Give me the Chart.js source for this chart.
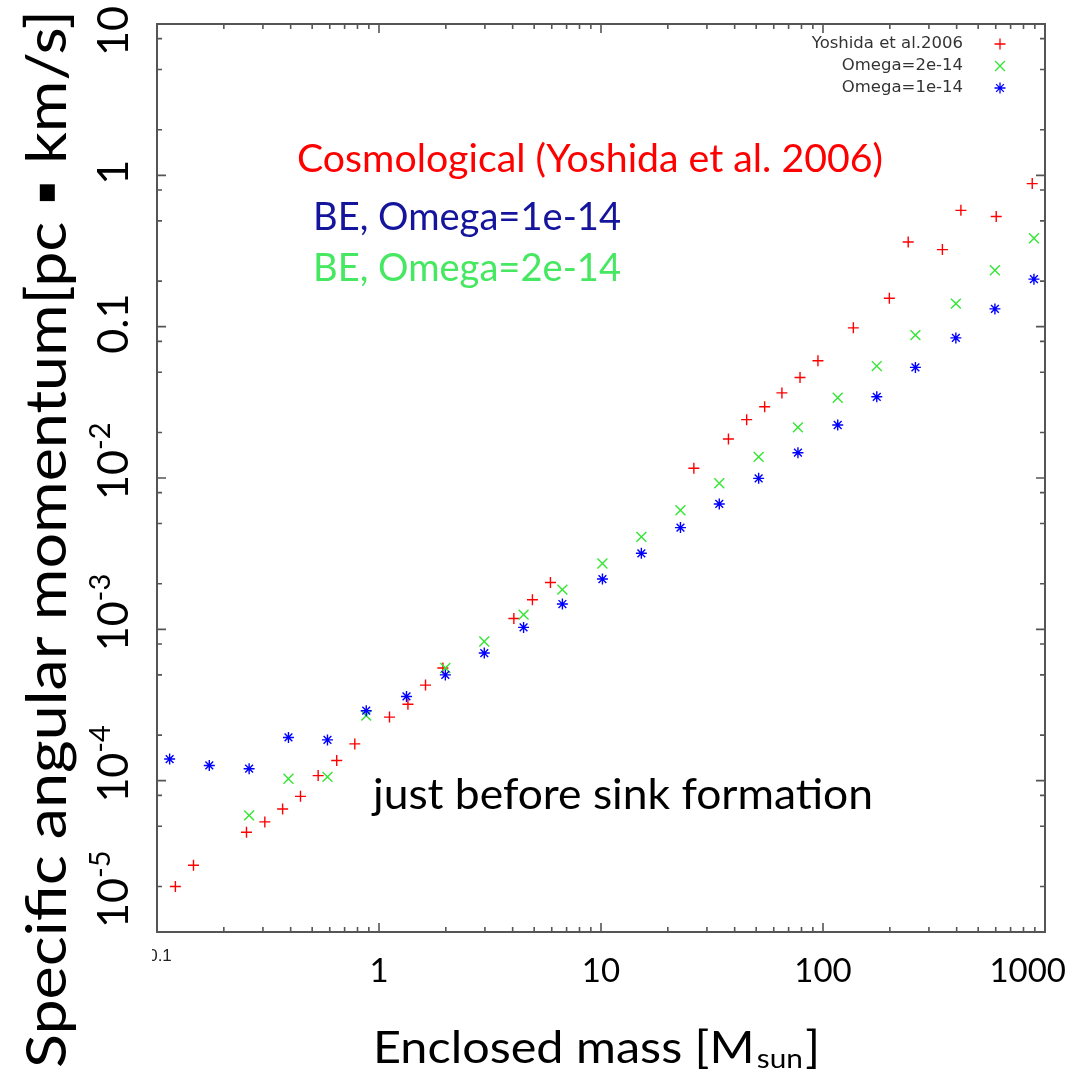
<!DOCTYPE html>
<html>
<head>
<meta charset="utf-8">
<title>Specific angular momentum</title>
<script src="https://cdn.jsdelivr.net/npm/chart.js@4/dist/chart.umd.min.js"></script>
<style>
  html, body { margin: 0; padding: 0; background: #fff; }
  canvas { display: block; }
</style>
</head>
<body>
<canvas id="grafico" width="1082" height="1080"></canvas>
<script>
// dados (massa em Msun, j em pc km/s)
const massYoshida = [0.121, 0.146, 0.253, 0.306, 0.368, 0.443, 0.532, 0.645, 0.778, 1.115, 1.35, 1.62, 1.94,
  4.05, 4.91, 5.92, 26.2, 37.5, 45.3, 54.6, 65.3, 78.8, 94.9, 137, 199, 242, 345, 418, 603, 876];
const jYoshida = [2.0e-5, 2.76e-5, 4.56e-5, 5.34e-5, 6.5e-5, 7.88e-5, 1.08e-4, 1.36e-4, 1.75e-4, 2.63e-4, 3.2e-4, 4.28e-4, 5.55e-4,
  1.18e-3, 1.57e-3, 2.04e-3, 1.16e-2, 1.81e-2, 2.43e-2, 2.96e-2, 3.65e-2, 4.61e-2, 5.95e-2, 9.82e-2, 0.154, 0.363, 0.323, 0.587, 0.534, 0.882];

const massOmega2 = [0.26, 0.391, 0.586, 0.876, 1.99, 2.98, 4.48, 6.70, 10.15, 15.2, 22.8, 34.1, 51.3, 77.1, 116.5, 174.7, 260.8, 396.7, 594.8, 891.7];
const jOmega2 = [5.9e-5, 1.03e-4, 1.06e-4, 2.69e-4, 5.55e-4, 8.31e-4, 1.25e-3, 1.83e-3, 2.72e-3, 4.08e-3, 6.12e-3, 9.23e-3, 1.38e-2, 2.16e-2,
  3.39e-2, 5.49e-2, 8.79e-2, 0.142, 0.236, 0.384];

const massOmega1 = [0.114, 0.172, 0.26, 0.391, 0.586, 0.876, 1.33, 1.99, 2.98, 4.48, 6.70, 10.15, 15.2, 22.8, 34.1, 51.3, 77.1, 116.5, 174.7, 260.8, 396.7, 594.8, 891.7];
const jOmega1 = [1.39e-4, 1.26e-4, 1.2e-4, 1.93e-4, 1.86e-4, 2.9e-4, 3.6e-4, 5.0e-4, 6.97e-4, 1.03e-3, 1.47e-3, 2.15e-3, 3.18e-3, 4.7e-3,
  6.74e-3, 9.95e-3, 1.47e-2, 2.24e-2, 3.44e-2, 5.38e-2, 8.43e-2, 0.131, 0.206];

const seriesNames = ['Yoshida et al.2006', 'Omega=2e-14', 'Omega=1e-14'];

const xTickValues = [0.1, 1, 10, 100, 1000];
const xTickLabels = ['0.1', '1', '10', '100', '1000'];
const yTickValues = [10, 1, 0.1, 1e-2, 1e-3, 1e-4, 1e-5];
const yTickLabels = ['10', '1', '0.1', '10^-2', '10^-3', '10^-4', '10^-5'];
const xMinorSteps = [1, 2, 3, 4, 5, 6, 7, 8, 9];
const yMinorSteps = [1, 2, 5, 8];

const xTitle = ['Enclosed mass [M', 'sun', ']'];
const yTitle = 'Specific angular momentum[pc \u25AA km/s]';
const notes = ['Cosmological (Yoshida et al. 2006)', 'BE, Omega=1e-14', 'BE, Omega=2e-14', 'just before sink formation'];

const LATO = 'Lato, "Open Sans", sans-serif';
const FRAME = '#555';

function toPoints(xs, ys) {
    return xs.map((x, i) => ({ x: x, y: ys[i] }));
}

function logTicks(lo, hi, steps) {
    var out = [];
    for (var e = lo; e < hi; e++) {
        steps.forEach(m => out.push({ value: m * Math.pow(10, e) }));
    }
    out.push({ value: Math.pow(10, hi) });
    return out;
}

function isDecade(v) {
    var l = Math.log10(v);
    return Math.abs(l - Math.round(l)) < 1e-6;
}

// texto ajustado a uma largura
function fitText(ctx, text, size, family, target) {
    ctx.font = size + 'px ' + family;
    var w = ctx.measureText(text).width;
    return target / w;
}

function drawNote(ctx, text, color, x, baseline, size, target) {
    ctx.save();
    var k = fitText(ctx, text, size, LATO, target);
    ctx.translate(x, baseline);
    ctx.scale(k, 1);
    ctx.fillStyle = color;
    ctx.textAlign = 'left';
    ctx.textBaseline = 'alphabetic';
    ctx.fillText(text, 0, 0);
    ctx.restore();
}

function drawMarker(ctx, style, r, x, y) {
    if (Chart.helpers && Chart.helpers.drawPoint) {
        Chart.helpers.drawPoint(ctx, { pointStyle: style, radius: r, rotation: 0, borderWidth: 1.3 }, x, y);
        return;
    }
    ctx.beginPath();
    if (style !== 'crossRot') {
        ctx.moveTo(x - r, y); ctx.lineTo(x + r, y);
        ctx.moveTo(x, y - r); ctx.lineTo(x, y + r);
    }
    if (style !== 'cross') {
        var d = r * Math.SQRT1_2;
        ctx.moveTo(x - d, y - d); ctx.lineTo(x + d, y + d);
        ctx.moveTo(x - d, y + d); ctx.lineTo(x + d, y - d);
    }
    ctx.stroke();
}

// moldura e marcas para dentro (estilo gnuplot)
const framePlugin = {
    id: 'frame',
    beforeDatasetsDraw(chart) {
        var ctx = chart.ctx, a = chart.chartArea;
        var xs = chart.scales.x, ys = chart.scales.y;
        ctx.save();
        ctx.strokeStyle = FRAME;
        ctx.lineWidth = 1.6;
        ctx.beginPath();
        xs.ticks.forEach(t => {
            var p = xs.getPixelForValue(t.value);
            var len = isDecade(t.value) ? 9 : 5;
            ctx.moveTo(p, a.bottom); ctx.lineTo(p, a.bottom - len);
            ctx.moveTo(p, a.top); ctx.lineTo(p, a.top + len);
        });
        ys.ticks.forEach(t => {
            var p = ys.getPixelForValue(t.value);
            var len = isDecade(t.value) ? 9 : 5;
            ctx.moveTo(a.left, p); ctx.lineTo(a.left + len, p);
            ctx.moveTo(a.right, p); ctx.lineTo(a.right - len, p);
        });
        ctx.stroke();
        ctx.lineWidth = 2;
        ctx.strokeRect(a.left, a.top, a.right - a.left, a.bottom - a.top);
        ctx.restore();
    },
    afterDraw(chart) {
        var ctx = chart.ctx, a = chart.chartArea;
        var xs = chart.scales.x, ys = chart.scales.y;
        ctx.save();
        ctx.fillStyle = '#000';

        // rótulos do eixo x
        xTickValues.forEach((v, i) => {
            var px = xs.getPixelForValue(v);
            if (v < 1) {
                ctx.save();
                ctx.beginPath();
                ctx.rect(152, 935, 60, 40);
                ctx.clip();
                ctx.font = '17px "Liberation Sans", Arial, sans-serif';
                ctx.fillStyle = '#222';
                ctx.textAlign = 'center';
                ctx.textBaseline = 'alphabetic';
                ctx.fillText(xTickLabels[i], px + 3, 961);
                ctx.restore();
                return;
            }
            ctx.font = '33px ' + LATO;
            ctx.textAlign = 'center';
            ctx.textBaseline = 'alphabetic';
            var w = ctx.measureText(xTickLabels[i]).width;
            var cx = Math.min(px, 1066 - w / 2);
            ctx.fillText(xTickLabels[i], cx, 982);
        });

        // rótulos do eixo y (girados, com expoente)
        yTickValues.forEach((v, i) => {
            var parts = yTickLabels[i].split('^');
            ctx.font = '43px ' + LATO;
            var wb = ctx.measureText(parts[0]).width;
            ctx.font = '29px ' + LATO;
            var we = parts[1] ? ctx.measureText(parts[1]).width : 0;
            var c = ys.getPixelForValue(v) - 3;
            if (c + wb / 2 > 928) c = 928 - wb / 2;
            if (c - wb / 2 - we < 6) c = 6 + wb / 2 + we;
            ctx.save();
            ctx.translate(128, c);
            ctx.rotate(-Math.PI / 2);
            ctx.textAlign = 'left';
            ctx.textBaseline = 'alphabetic';
            ctx.font = '43px ' + LATO;
            ctx.fillText(parts[0], -wb / 2, 0);
            if (parts[1]) {
                ctx.font = '29px ' + LATO;
                ctx.fillText(parts[1], wb / 2, -18);
            }
            ctx.restore();
        });

        // título do eixo y
        ctx.save();
        var ky = fitText(ctx, yTitle, 56, LATO, 1058);
        ctx.translate(66, 539);
        ctx.rotate(-Math.PI / 2);
        ctx.scale(ky, 1);
        ctx.textAlign = 'center';
        ctx.textBaseline = 'alphabetic';
        ctx.fillText(yTitle, 0, 0);
        ctx.restore();

        // título do eixo x (com subscrito)
        ctx.save();
        ctx.textAlign = 'left';
        ctx.textBaseline = 'alphabetic';
        ctx.font = '44px ' + LATO;
        var w0 = ctx.measureText(xTitle[0]).width;
        var w2 = ctx.measureText(xTitle[2]).width;
        ctx.font = '27px ' + LATO;
        var w1 = ctx.measureText(xTitle[1]).width;
        var kx = 447 / (w0 + w1 + w2 + 4);
        ctx.translate(373, 1063);
        ctx.scale(kx, 1);
        ctx.font = '44px ' + LATO;
        ctx.fillText(xTitle[0], 0, 0);
        ctx.fillText(xTitle[2], w0 + w1 + 4, 0);
        ctx.font = '27px ' + LATO;
        ctx.fillText(xTitle[1], w0 + 2, 5);
        ctx.restore();

        // textos do slide
        drawNote(ctx, notes[0], '#ff0000', 297, 172, 39, 586);
        drawNote(ctx, notes[1], '#14149c', 313, 230, 38, 308);
        drawNote(ctx, notes[2], '#45e860', 313, 281, 38, 308);
        drawNote(ctx, notes[3], '#000000', 373, 809, 42, 500);

        // legenda
        ctx.font = '16.5px "DejaVu Sans", sans-serif';
        ctx.textAlign = 'right';
        ctx.textBaseline = 'middle';
        chart.data.datasets.forEach((ds, i) => {
            var yy = 44 + 22 * i;
            ctx.fillStyle = '#333';
            ctx.fillText(ds.label, 963, yy);
            ctx.strokeStyle = ds.pointBorderColor;
            ctx.fillStyle = ds.pointBorderColor;
            ctx.lineWidth = 1.3;
            drawMarker(ctx, ds.pointStyle, ds.pointRadius, 1000, yy);
        });
        ctx.restore();
    }
};

const dados = {
    datasets: [{
        label: seriesNames[0],
        data: toPoints(massYoshida, jYoshida),
        pointStyle: 'cross',
        pointRadius: 5.5,
        pointBorderWidth: 1.4,
        pointBorderColor: '#ff0000',
        pointBackgroundColor: '#ff0000',
        showLine: false,
        order: 3
    }, {
        label: seriesNames[1],
        data: toPoints(massOmega2, jOmega2),
        pointStyle: 'crossRot',
        pointRadius: 7,
        pointBorderWidth: 1.4,
        pointBorderColor: '#33e633',
        pointBackgroundColor: '#33e633',
        showLine: false,
        order: 2
    }, {
        label: seriesNames[2],
        data: toPoints(massOmega1, jOmega1),
        pointStyle: 'star',
        pointRadius: 5.5,
        pointBorderWidth: 1.4,
        pointBorderColor: '#0000ff',
        pointBackgroundColor: '#0000ff',
        showLine: false,
        order: 1
    }]
};

const configuracao = {
    type: 'scatter',
    data: dados,
    options: {
        responsive: false,
        animation: false,
        devicePixelRatio: 1,
        events: [],
        layout: { padding: { top: 24, right: 37, bottom: 0, left: 0 } },
        plugins: {
            legend: { display: false },
            tooltip: { enabled: false }
        },
        scales: {
            x: {
                type: 'logarithmic',
                min: 0.1,
                max: 1000,
                grid: { display: false },
                border: { display: false },
                ticks: { display: false },
                afterBuildTicks: s => { s.ticks = logTicks(-1, 3, xMinorSteps); },
                afterFit: s => { s.height = 148; }
            },
            y: {
                type: 'logarithmic',
                min: 1e-5,
                max: 10,
                grid: { display: false },
                border: { display: false },
                ticks: { display: false },
                afterBuildTicks: s => { s.ticks = logTicks(-5, 1, yMinorSteps); },
                afterFit: s => { s.width = 157; }
            }
        }
    },
    plugins: [framePlugin]
};

var ctx = document.getElementById('grafico').getContext('2d');
var meuGrafico = new Chart(ctx, configuracao);
</script>
</body>
</html>
